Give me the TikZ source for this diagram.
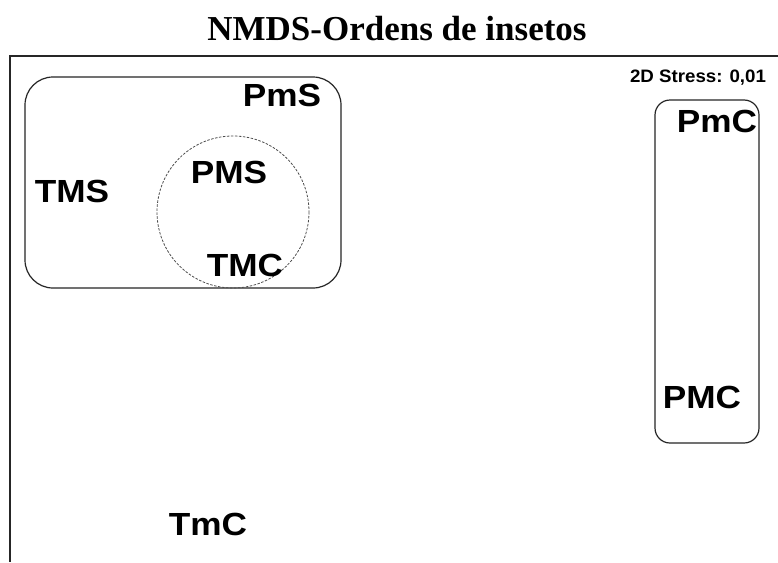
\documentclass[tikz,border=0pt]{standalone}
\usepackage{fontspec}
\setmainfont{Liberation Serif}
\newfontfamily\arialfont{Liberation Sans}
\begin{document}
\begin{tikzpicture}[x=1pt,y=-1pt,
  grp/.style={draw=black!85, line width=1.2pt, rounded corners=#1},
  lbl/.style={font=\arialfont\bfseries\fontsize{32}{32}\selectfont, xscale=1.1, inner sep=0pt, anchor=center},
  frameline/.style={draw=black!85, line width=1.5pt}]
\useasboundingbox (0,0) rectangle (778,562);
\fill[white] (0,0) rectangle (778,562);
% title
\node[font=\bfseries\fontsize{35}{35}\selectfont, anchor=base, inner sep=0pt] (title) at (397,40) {NMDS-Ordens de insetos};
% frame
\coordinate (ftr) at (778,56);
\coordinate (ftl) at (10,56);
\coordinate (fbl) at (10,562);
\draw[frameline] (ftr) -- (ftl) -- (fbl);
% stress
\node[font=\arialfont\bfseries\fontsize{18}{18}\selectfont, xscale=1.04, anchor=base, inner sep=0pt] (stress) at (698,82) {2D Stress: 0,01};
% groups
\draw[grp=28pt] (25,77) rectangle (341,288);
\draw[grp=15pt] (655,100) rectangle (759,443);
\draw[black!70, dashed, line width=0.8pt, dash pattern=on 2.5pt off 1.5pt] (233,212) circle[radius=76];
% labels
\node[lbl] (PmS) at (282,95) {PmS};
\node[lbl] (TMS) at (72,191) {TMS};
\node[lbl] (PMS) at (229,172) {PMS};
\node[lbl] (TMC) at (245,265) {TMC};
\node[lbl] (PmC) at (717,121) {PmC};
\node[lbl] (PMC) at (702,397) {PMC};
\node[lbl] (TmC) at (208,524) {TmC};
\end{tikzpicture}
\end{document}
